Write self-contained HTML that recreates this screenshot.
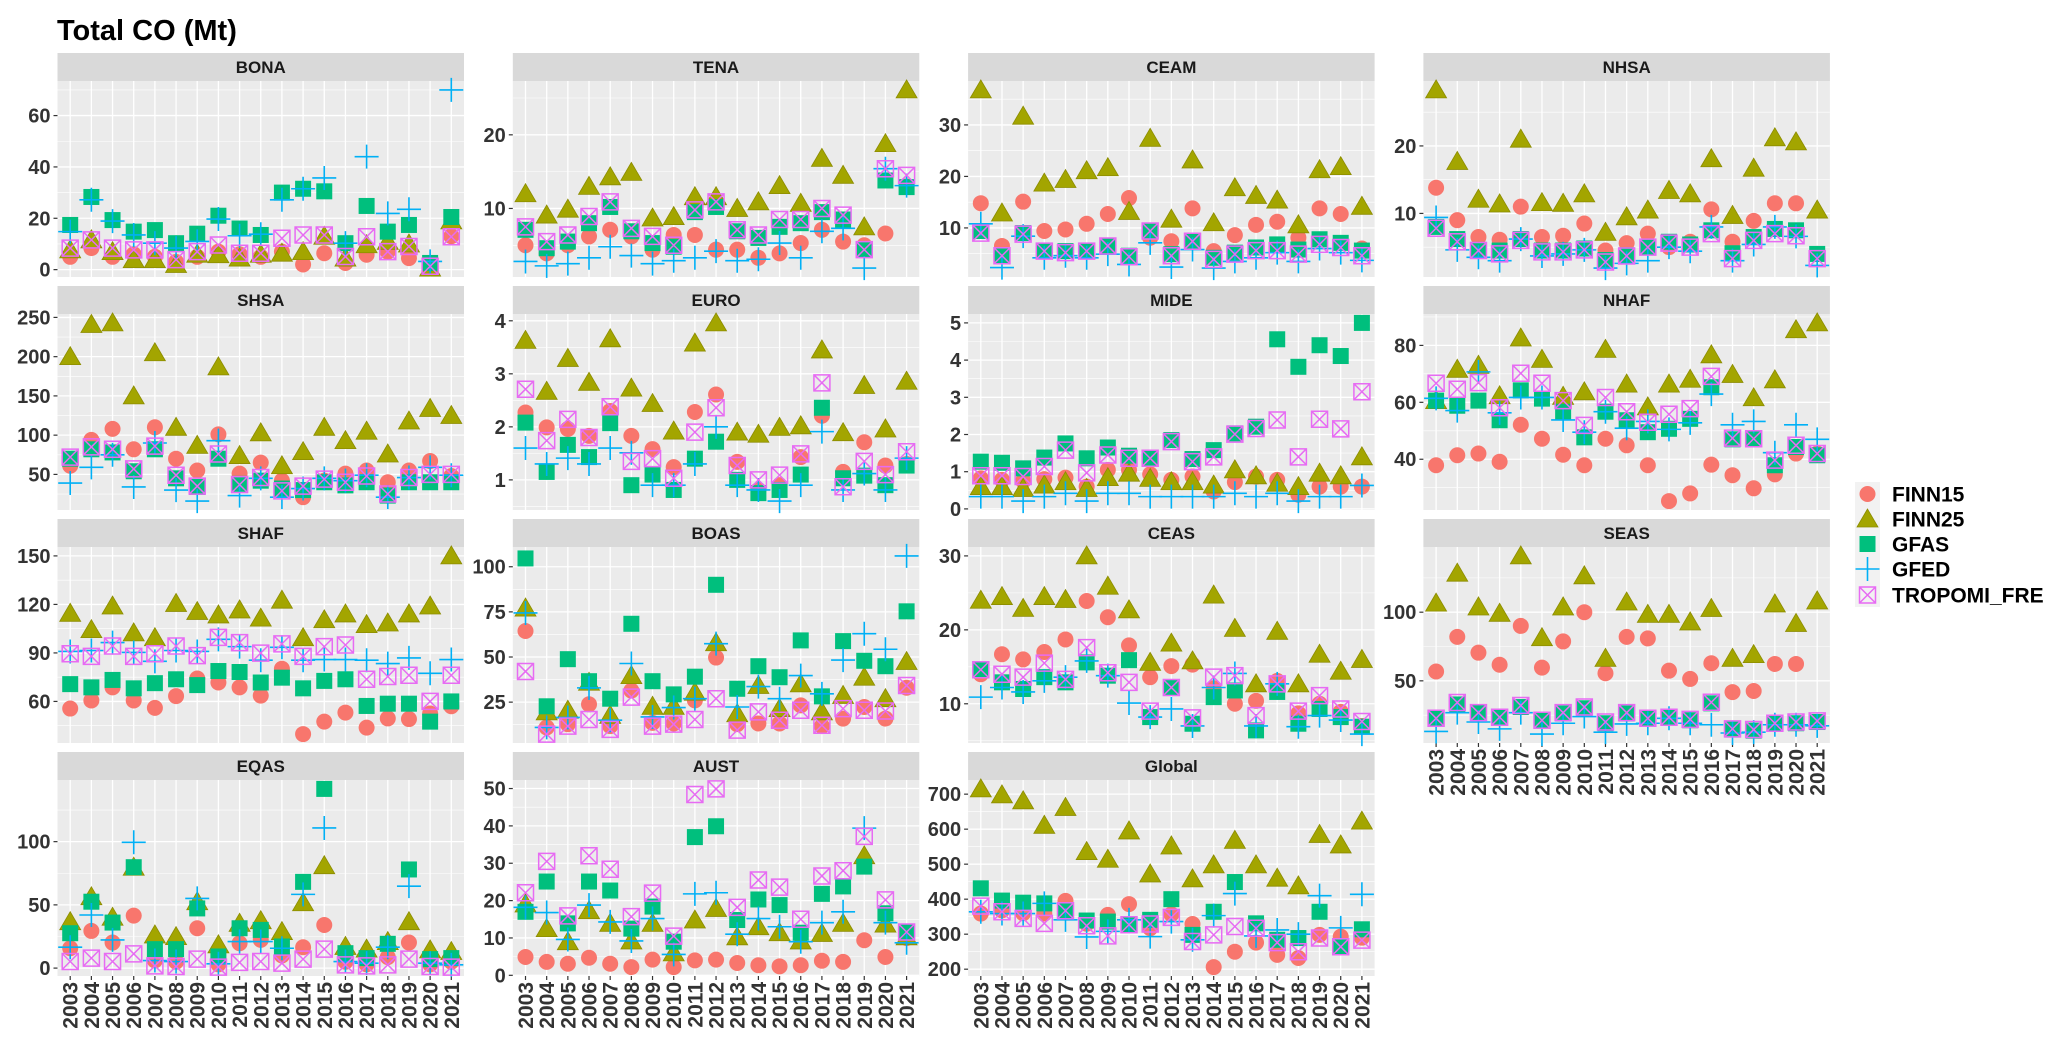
<!DOCTYPE html>
<html><head><meta charset="utf-8">
<style>
html,body{margin:0;padding:0;background:#fff;}
svg{display:block;font-family:"Liberation Sans",Arial,sans-serif;}
</style></head>
<body>
<svg id="chart" width="2067" height="1045" viewBox="0 0 2067 1045" xmlns="http://www.w3.org/2000/svg">
<text x="57" y="40" font-size="29" font-weight="bold" fill="#000">Total CO (Mt)</text>
</svg>
<script>
const years = [2003,2004,2005,2006,2007,2008,2009,2010,2011,2012,2013,2014,2015,2016,2017,2018,2019,2020,2021];
const seriesNames = ["FINN15","FINN25","GFAS","GFED","TROPOMI_FRE"];
const regionNames = ["BONA","TENA","CEAM","NHSA","SHSA","EURO","MIDE","NHAF","SHAF","BOAS","CEAS","SEAS","EQAS","AUST","Global"];

const BONA_FINN15 = [5,8.4,5,6,5,3,5,7,6,5,7,2,6.4,2.6,5.8,7,4.5,0.6,13];
const BONA_FINN25 = [7.7,11.6,7,3.9,3.9,2,6,5.8,4.5,6,6.4,7,13,4.5,9.7,11,10,0.6,19];
const BONA_GFAS = [17.4,28.3,19.3,14.8,15.4,10.3,14,21,16,13.5,30,31.5,30.5,10.3,24.8,14.8,17.4,2.6,20.5];
const BONA_GFED = [14.8,27.2,18.9,13.5,10.3,8.4,11,19.7,13.2,13.8,27.2,31.5,35.7,10.3,44,21.9,23.5,3.2,70];
const BONA_TROP = [8.4,11.6,8.4,7.7,7.7,3.9,7,9.6,6.4,6.4,12.2,13.5,13.5,5.1,12.8,7,9,1.3,12.8];

const TENA_FINN15 = [5,3.9,5,6.2,7.1,6.2,4.4,6.4,6.4,4.4,4.4,3.3,3.9,5.3,7.1,5.5,5,6.6,13];
const TENA_FINN25 = [12,9.1,9.9,13,14.3,14.9,8.7,8.9,11.6,11.6,10,10.9,13.1,10.7,16.8,14.5,7.5,18.8,26.1];
const TENA_GFAS = [7.1,4.6,5.5,8,10.2,6.9,5.3,4.8,9.5,10.2,6.9,6,7.5,8,9.5,8.5,4.4,13.8,12.9];
const TENA_GFED = [2.8,2.2,2.5,3.3,4.8,3.6,2.5,2.9,3.3,4.2,2.9,3.1,5.3,3.3,6.9,7.3,1.9,15.4,13.1];
const TENA_TROP = [7.5,5.5,6.4,8.9,10.9,7.3,6.2,5,9.8,10.9,7.1,6.4,8.5,8.5,10,9.1,4.4,15.4,14.5];

const CEAM_FINN15 = [14.8,6.5,15.1,9.4,9.7,10.8,12.7,15.8,8.1,7.4,13.8,5.5,8.6,10.6,11.2,8.1,13.8,12.7,6];
const CEAM_FINN25 = [36.8,12.9,31.7,18.7,19.4,21.1,21.7,13.2,27.4,11.7,23.2,11,17.8,16.3,15.4,10.6,21.3,21.9,14.2];
const CEAM_GFAS = [9.4,4.6,9,5.6,5.5,5.6,6.5,4.6,9.4,4.9,7.4,4.2,5.2,6.2,6.8,5.8,7.8,7.1,5.6];
const CEAM_GFED = [10.8,2.3,8.4,4.2,4.6,4.2,4.9,2.9,7.1,2.4,5.8,2.2,3.5,4.2,5.2,3.5,6,5.2,3.7];
const CEAM_TROP = [9,4.6,8.8,5.5,5.2,5.5,6.5,4.4,9.4,4.6,7.4,3.9,4.9,5.6,5.6,4.9,6.8,6.2,4.6];

const NHSA_FINN15 = [13.8,9,6.5,6.1,11,6.5,6.7,8.5,4.5,5.6,7,5,5.8,10.6,5.8,8.9,11.5,11.5,4];
const NHSA_FINN25 = [28.3,17.7,12.1,11.4,21,11.6,11.5,12.9,7.2,9.5,10.5,13.4,12.9,18.1,9.7,16.7,21.2,20.6,10.5];
const NHSA_GFAS = [8,6.2,4.6,4.5,6.2,4.5,4.5,4.8,3.1,3.8,5,5.8,5.4,7.5,4.1,6.5,7.7,7.5,4];
const NHSA_GFED = [9.4,4.6,3.5,3,6.2,3.7,4,4.6,1.9,2.6,3,5,4.4,8,3,5.4,8,6.6,2.3];
const NHSA_TROP = [7.8,5.8,4.5,4,6,4.3,4.3,4.6,2.8,3.7,5,5.6,5,7,3.3,6,7,6.7,3.3];

const SHSA_FINN15 = [61,94,108,82,110,70,55,101,51,65,42,21,42,51,55,40,55,67,48];
const SHSA_FINN25 = [200,241,243,150,205,110,87,187,74,103,61,79,110,93,105,76,118,134,125];
const SHSA_GFAS = [70,82,78,54,82,45,34,70,38,42,32,30,40,36,40,23,40,40,40];
const SHSA_GFED = [39,59,75,34,90,30,16,93,23,45,21,32,45,42,49,21,46,59,49];
const SHSA_TROP = [72,85,82,57,86,49,35,76,37,46,29,35,44,40,48,25,46,50,50];

const EURO_FINN15 = [2.27,1.99,1.96,1.83,2.3,1.83,1.58,1.24,2.28,2.61,1.34,0.81,0.9,1.43,2.21,1.15,1.71,1.27,1.3];
const EURO_FINN25 = [3.63,2.67,3.29,2.84,3.66,2.73,2.44,1.92,3.58,3.96,1.9,1.86,1.99,2.02,3.45,1.89,2.78,1.96,2.86];
const EURO_GFAS = [2.08,1.15,1.66,1.43,2.07,0.9,1.1,0.81,1.4,1.72,1,0.75,0.81,1.1,2.36,1.03,1.08,0.9,1.27];
const EURO_GFED = [1.6,1.3,1.41,1.3,1.6,1.51,0.9,0.9,1.3,2,0.9,0.81,0.6,0.9,1.91,0.81,1.12,0.81,1.41];
const EURO_TROP = [2.71,1.74,2.14,1.8,2.38,1.35,1.4,1.03,1.9,2.36,1.27,1,1.09,1.49,2.83,0.87,1.35,1.1,1.53];

const MIDE_FINN15 = [0.82,0.78,0.75,0.8,0.84,0.6,1.05,1.05,0.93,0.78,0.87,0.47,0.72,0.87,0.78,0.38,0.6,0.6,0.6];
const MIDE_FINN25 = [0.6,0.6,0.55,0.64,0.73,0.55,0.84,0.96,0.82,0.73,0.73,0.64,1.05,0.89,0.69,0.6,0.96,0.89,1.4];
const MIDE_GFAS = [1.27,1.24,1.09,1.38,1.76,1.36,1.65,1.43,1.36,1.85,1.34,1.58,2.03,2.21,4.56,3.82,4.4,4.11,5];
const MIDE_GFED = [0.33,0.33,0.21,0.33,0.42,0.21,0.42,0.42,0.33,0.33,0.33,0.33,0.42,0.33,0.42,0.21,0.33,0.33,0.63];
const MIDE_TROP = [0.89,0.89,0.87,1.14,1.58,0.97,1.45,1.36,1.36,1.81,1.27,1.4,2.01,2.16,2.39,1.4,2.41,2.15,3.15];

const NHAF_FINN15 = [37.9,41.4,42,39.1,52.1,47.2,41.6,37.9,47.2,44.9,37.9,25.3,28,38.1,34.4,29.8,34.7,42,42];
const NHAF_FINN25 = [60.6,71.6,73,62.3,82.6,75.1,62.1,63.7,78.6,66.4,58.4,66.4,68.1,76.7,69.8,61.6,67.9,85.5,87.9];
const NHAF_GFAS = [60.6,58.8,60.6,53.7,64.2,61.3,56.7,47.7,56.7,53.7,49.5,50.7,54.2,65.3,47,47.2,37.9,44.3,41.4];
const NHAF_GFED = [61.4,57.1,70.7,56.3,61.7,61.7,53.8,49.5,56.7,50.9,53.3,50.5,52.8,62.9,52.1,53.3,42.3,52.1,47];
const NHAF_TROP = [66.7,64.6,66.9,58.1,70.2,66.7,60.6,51.9,61.7,56.7,53,55.8,57.8,69.1,47.4,47.2,39.7,44.9,42];

const SHAF_FINN15 = [55.6,60.6,68.7,60.6,56,63.3,74.2,71.7,68.7,63.6,80.2,39.8,47.5,53.1,43.8,49.5,49.1,52.5,57];
const SHAF_FINN25 = [114.5,104.4,119,102.4,99.4,120.6,115.6,113.5,116.6,111.5,122.6,99.4,110.5,114.1,107.5,108.5,114.1,119,150];
const SHAF_GFAS = [70.7,68.7,73.3,68.1,71.3,73.7,70.1,78.8,78.2,71.7,74.7,68.1,72.7,73.7,57.2,58.6,58.6,47.5,60];
const SHAF_GFED = [90.9,91.5,96.4,90.3,84.8,91.5,90.9,98.4,93.9,85.5,93.5,85.5,85.9,85.9,85.5,83.4,86.9,77.4,85.9];
const SHAF_TROP = [89.5,87.9,94.3,87.9,89.5,94.3,88.3,99.6,96.4,89.9,95.6,87.9,93.9,94.9,73.7,75.4,76.2,60,76.2];

const BOAS_FINN15 = [64.4,11,12.8,23.8,11.7,31.4,13.5,13.2,26,49.7,12.8,13.2,13.2,23.2,11.7,15.9,22.3,15.9,33];
const BOAS_FINN25 = [77.1,19.6,20.5,36,17.7,39.7,22.7,22.7,30.5,57.9,18.6,34.2,21.4,35.1,19.6,28.7,38.8,26.9,47.5];
const BOAS_GFAS = [104.6,22.7,48.8,36.6,26.9,68.4,36.6,29.3,39.1,90,32.4,44.9,38.8,59.2,28.2,58.8,47.9,44.9,75.3];
const BOAS_GFED = [74.4,11,16.5,32.9,15,46.4,16.8,22,26.9,57.4,22.3,33.6,26.9,39.7,29.6,48.3,62.9,54.3,106];
const BOAS_TROP = [42,7.3,11.7,15.4,9.9,27.8,11.7,12.8,15.4,26.9,9.5,19.6,15,20.5,12.2,21.4,20.5,20.1,34.2];

const CEAS_FINN15 = [14,16.7,16,17,18.7,23.9,21.7,17.9,13.6,15.1,15.3,12.1,10,10.4,13.1,8.7,10,8.9,7];
const CEAS_FINN25 = [24,24.5,22.9,24.5,24.1,30,25.9,22.7,15.6,18.2,15.8,24.7,20.2,12.7,19.8,12.7,16.7,14.4,16];
const CEAS_GFAS = [14.6,12.9,12,13.6,12.9,15.6,13.8,15.9,8.2,12.2,7.3,10.9,11.8,6.4,11.6,7.3,9.3,8.2,6.9];
const CEAS_GFED = [10.9,12.2,11.6,13.1,13.6,15.8,13.8,10.1,8.2,9.3,7,12.2,14.1,7,12.7,6.9,8.4,7.8,5.9];
const CEAS_TROP = [14.6,14,13.6,15.5,13.3,17.6,14.2,12.9,9,12.2,8.1,13.6,13.8,8.4,12.7,9,11.1,9.3,7.6];

const SEAS_FINN15 = [56.8,82,70.5,61.7,90,59.6,78.7,100,55.5,82,80.9,57.4,51.4,62.8,41.8,42.6,62.3,62.3,20];
const SEAS_FINN25 = [106.6,128.4,103.8,99.2,141,81.4,103.8,126.5,66.4,107.4,98.4,98.4,92.9,102.7,66.4,69.1,106,91.8,108.2];
const SEAS_GFAS = [22.7,32.8,26.8,24,30.9,20.8,26.2,30,19.1,26.2,22.7,23.5,21.3,33.6,14.5,13.7,19.1,19.1,20];
const SEAS_GFED = [13.1,26.8,20,15,26.8,11.2,19.1,24,12.6,18.6,19.1,22.7,19.1,18,12,12.6,18,18,17.2];
const SEAS_TROP = [22.7,34.2,26.8,23.5,32,21.3,26.8,30.9,20,26.8,22.7,23.5,21.9,34.4,15,14.5,19.1,20,20.8];

const EQAS_FINN15 = [15.7,29.4,20.2,41.5,6,5,31.5,3,19.7,22.3,10,16.5,34.1,5,3,8.7,20.2,3,5];
const EQAS_FINN25 = [36.7,56.4,40.2,79.8,26.2,24.9,52.5,18.4,35.4,37.5,28.9,51.7,81,17.1,15,21,36.7,14.4,13.1];
const EQAS_GFAS = [27.6,52.5,36,79.8,15,15,47.2,9.2,31.5,30.2,17.1,68.2,141.7,11.8,7.9,19.2,78,7.1,7.9];
const EQAS_GFED = [16.5,42,22.3,99.5,6,5.2,55.1,3.4,21,21,15.7,58.3,110.8,5.2,3.9,16.5,64.8,3.9,2.6];
const EQAS_TROP = [5.2,7.9,5.2,11.3,1.8,1.3,7.1,0.8,4.5,5.2,3.9,7.1,15,2.6,1.8,2.6,7.1,1.3,0.8];

const AUST_FINN15 = [4.9,3.6,3.1,4.7,3.1,2.2,4.2,2.2,4,4.2,3.3,2.7,2.4,2.7,3.9,3.6,9.4,4.9,10];
const AUST_FINN25 = [19.1,12.5,9,17.3,13.9,9.2,13.9,6,14.8,17.9,10.3,13,11.4,9.2,11.2,13.9,32,13.7,10.3];
const AUST_GFAS = [17,25.1,13.9,25.1,22.7,12.5,18.4,9,37,39.9,14.8,20.3,18.8,11.4,21.8,23.8,29.1,16.6,11.6];
const AUST_GFED = [18.2,16.8,9.6,18.8,14.3,9.2,15.2,5.6,21.8,22.1,11,15.2,13,9,14.1,17,39.4,14.1,8.7];
const AUST_TROP = [22.1,30.5,15.9,32,28.4,15.7,22,10.5,48.4,49.9,18.2,25.5,23.6,15,26.6,28,37.2,20.2,11.6];

const GLOBAL_FINN15 = [359,368,360,359,395,330,355,386,317,357,329,206,250,276,241,232,298,293,290];
const GLOBAL_FINN25 = [715,698,681,611,662,536,514,595,472,552,458,498,568,498,460,438,585,555,623];
const GLOBAL_GFAS = [431,396,390,388,369,339,336,327,341,400,298,364,449,331,284,289,364,264,314];
const GLOBAL_GFED = [364,359,359,388,341,292,308,341,293,336,284,353,416,295,312,300,410,318,414];
const GLOBAL_TROP = [380,364,345,331,367,324,295,327,329,348,279,298,322,317,276,250,289,264,283];

const BONA_TICKS = [0,20,40,60];
const TENA_TICKS = [10,20];
const CEAM_TICKS = [10,20,30];
const NHSA_TICKS = [10,20];
const SHSA_TICKS = [50,100,150,200,250];
const EURO_TICKS = [1,2,3,4];
const MIDE_TICKS = [0,1,2,3,4,5];
const NHAF_TICKS = [40,60,80];
const SHAF_TICKS = [60,90,120,150];
const BOAS_TICKS = [25,50,75,100];
const CEAS_TICKS = [10,20,30];
const SEAS_TICKS = [50,100];
const EQAS_TICKS = [0,50,100];
const AUST_TICKS = [0,10,20,30,40,50];
const GLOBAL_TICKS = [200,300,400,500,600,700];

const panelSeries = [
 [BONA_FINN15,BONA_FINN25,BONA_GFAS,BONA_GFED,BONA_TROP],
 [TENA_FINN15,TENA_FINN25,TENA_GFAS,TENA_GFED,TENA_TROP],
 [CEAM_FINN15,CEAM_FINN25,CEAM_GFAS,CEAM_GFED,CEAM_TROP],
 [NHSA_FINN15,NHSA_FINN25,NHSA_GFAS,NHSA_GFED,NHSA_TROP],
 [SHSA_FINN15,SHSA_FINN25,SHSA_GFAS,SHSA_GFED,SHSA_TROP],
 [EURO_FINN15,EURO_FINN25,EURO_GFAS,EURO_GFED,EURO_TROP],
 [MIDE_FINN15,MIDE_FINN25,MIDE_GFAS,MIDE_GFED,MIDE_TROP],
 [NHAF_FINN15,NHAF_FINN25,NHAF_GFAS,NHAF_GFED,NHAF_TROP],
 [SHAF_FINN15,SHAF_FINN25,SHAF_GFAS,SHAF_GFED,SHAF_TROP],
 [BOAS_FINN15,BOAS_FINN25,BOAS_GFAS,BOAS_GFED,BOAS_TROP],
 [CEAS_FINN15,CEAS_FINN25,CEAS_GFAS,CEAS_GFED,CEAS_TROP],
 [SEAS_FINN15,SEAS_FINN25,SEAS_GFAS,SEAS_GFED,SEAS_TROP],
 [EQAS_FINN15,EQAS_FINN25,EQAS_GFAS,EQAS_GFED,EQAS_TROP],
 [AUST_FINN15,AUST_FINN25,AUST_GFAS,AUST_GFED,AUST_TROP],
 [GLOBAL_FINN15,GLOBAL_FINN25,GLOBAL_GFAS,GLOBAL_GFED,GLOBAL_TROP]
];
const panelTicks = [BONA_TICKS,TENA_TICKS,CEAM_TICKS,NHSA_TICKS,SHSA_TICKS,EURO_TICKS,MIDE_TICKS,NHAF_TICKS,SHAF_TICKS,BOAS_TICKS,CEAS_TICKS,SEAS_TICKS,EQAS_TICKS,AUST_TICKS,GLOBAL_TICKS];

const NS = "http://www.w3.org/2000/svg";
const svg = document.getElementById("chart");
const COLORS = ["#F8766D","#A3A500","#00BF7D","#00B0F6","#E76BF3"];

function mk(tag, attrs, parent){
  const e = document.createElementNS(NS, tag);
  for (const k in attrs) e.setAttribute(k, attrs[k]);
  (parent||svg).appendChild(e);
  return e;
}

function drawMarker(g, s, cx, cy){
  let e;
  if (s === 0){
    e = mk("circle",{cx:cx,cy:cy,r:8,fill:COLORS[0]},g);
  } else if (s === 1){
    e = mk("polygon",{points:(cx)+","+(cy-10)+" "+(cx-10.5)+","+(cy+8)+" "+(cx+10.5)+","+(cy+8),fill:COLORS[1],stroke:"#8C8C00","stroke-width":0.8},g);
  } else if (s === 2){
    e = mk("rect",{x:cx-8,y:cy-8,width:16,height:16,fill:COLORS[2]},g);
  } else if (s === 3){
    e = mk("path",{d:"M"+(cx-12)+" "+cy+"H"+(cx+12)+"M"+cx+" "+(cy-12)+"V"+(cy+12),stroke:COLORS[3],"stroke-width":1.6,fill:"none"},g);
  } else {
    e = mk("path",{d:"M"+(cx-8)+" "+(cy-8)+"h16v16h-16z M"+(cx-8)+" "+(cy-8)+"L"+(cx+8)+" "+(cy+8)+"M"+(cx+8)+" "+(cy-8)+"L"+(cx-8)+" "+(cy+8),stroke:COLORS[4],"stroke-width":1.5,fill:"none"},g);
  }
  return e;
}

const COL_X0 = 57.5, COL_DX = 455.3, PW = 406.5, ROW_Y0 = 53, ROW_DY = 233, STRIP_H = 28, PH = 196;

for (let p = 0; p < regionNames.length; p++){
  const col = p % 4, row = Math.floor(p / 4);
  const left = COL_X0 + COL_DX * col;
  const stripTop = ROW_Y0 + ROW_DY * row;
  const top = stripTop + STRIP_H;
  const series = panelSeries[p];
  const ticks = panelTicks[p];
  let mn = Infinity, mx = -Infinity;
  series.forEach(a => a.forEach(v => { if (v < mn) mn = v; if (v > mx) mx = v; }));
  const pad = (mx - mn) * 0.05;
  const dmin = mn - pad, dmax = mx + pad;
  const y = v => top + PH * (dmax - v) / (dmax - dmin);
  const x = i => left + PW * (i + 0.6) / (years.length - 1 + 1.2);

  const g = mk("g",{});
  
  

  const strip = mk("rect",{x:left,y:stripTop,width:PW,height:STRIP_H,fill:"#D9D9D9"},g);
  
  
  const st = mk("text",{x:left+PW/2,y:stripTop+20,"text-anchor":"middle","font-size":17,"font-weight":"bold",fill:"#1A1A1A"},g);
  st.textContent = regionNames[p];
  
  

  const bg = mk("rect",{x:left,y:top,width:PW,height:PH,fill:"#EBEBEB"},g);
  
  

  // minor gridlines
  const step = ticks.length > 1 ? ticks[1] - ticks[0] : 10;
  for (let v = ticks[0] - step * 10 + step / 2; v < dmax; v += step){
    if (v > dmin){
      mk("line",{x1:left,x2:left+PW,y1:y(v),y2:y(v),stroke:"#FFFFFF","stroke-width":0.6},g);
    }
  }
  // major gridlines + ticks
  ticks.forEach(t => {
    const yy = y(t);
    mk("line",{x1:left,x2:left+PW,y1:yy,y2:yy,stroke:"#FFFFFF","stroke-width":1.3},g);
    mk("line",{x1:left-4,x2:left,y1:yy,y2:yy,stroke:"#333","stroke-width":1.2},g);
    const tl = mk("text",{x:left-7,y:yy+7,"text-anchor":"end","font-size":20,"font-weight":"bold",fill:"#333"},g);
    tl.textContent = t;
    
    
  });
  years.forEach((yr, i) => {
    mk("line",{x1:x(i),x2:x(i),y1:top,y2:top+PH,stroke:"#FFFFFF","stroke-width":1.3},g);
  });
  const showX = (row === 3) || (p === 11);
  if (showX){
    years.forEach((yr, i) => {
      mk("line",{x1:x(i),x2:x(i),y1:top+PH,y2:top+PH+4,stroke:"#333","stroke-width":1.2},g);
      const xl = mk("text",{x:0,y:0,"text-anchor":"end","font-size":21,"font-weight":"bold",fill:"#333",transform:"translate("+(x(i)+7.5)+","+(top+PH+6)+") rotate(-90)"},g);
      xl.textContent = yr;
      
      
    });
  }
  for (let s = 0; s < series.length; s++){
    const arr = series[s];
    for (let i = 0; i < arr.length; i++){
      const m = drawMarker(g, s, x(i), y(arr[i]));
      
      
    }
  }
}

// legend
const lg = mk("g",{});


mk("rect",{x:1855,y:482,width:25,height:125,fill:"#F2F2F2"},lg);
const legendRowY = [494,519,544,569,595];
for (let s = 0; s < seriesNames.length; s++){
  const cy = legendRowY[s];
  const ge = mk("g",{},lg);
  
  
  drawMarker(ge, s, 1867.5, cy);
  const t = mk("text",{x:1892,y:cy+7.5,"font-size":21,"font-weight":"bold",fill:"#000"},ge);
  t.textContent = seriesNames[s];
}
</script>
</body></html>
